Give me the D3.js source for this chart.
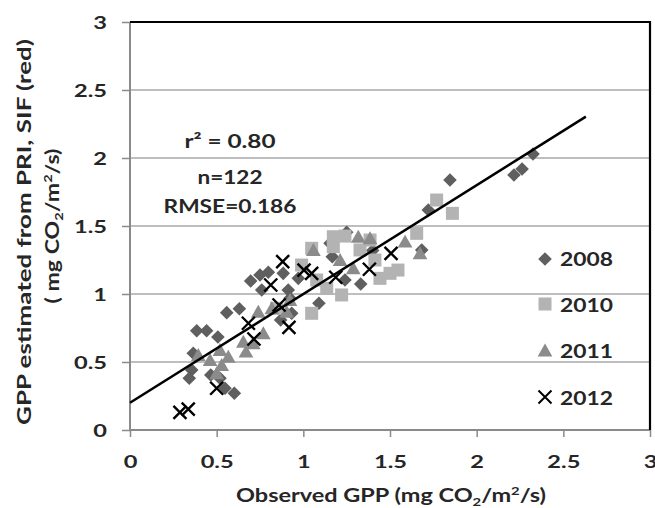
<!DOCTYPE html>
<html>
<head>
<meta charset="utf-8">
<script src="https://cdn.jsdelivr.net/npm/d3@7"></script>
<style>
  html, body { margin: 0; padding: 0; background: #fff; }
  svg { display: block; }
  text { font-family: Lato, "Open Sans", sans-serif; font-weight: 700; fill: #262626; }
</style>
</head>
<body>
<svg id="chart" width="655" height="508"></svg>
<script>
// ---------------- data ----------------
const xTickValues = [0, 0.5, 1, 1.5, 2, 2.5, 3];
const yTickValues = [0, 0.5, 1, 1.5, 2, 2.5, 3];
const seriesNames = ["2008", "2010", "2011", "2012"];

const obs2008 = [0.385,0.442,0.507,0.365,0.356,0.342,0.466,0.519,0.548,0.602,0.558,0.631,0.696,0.750,0.798,0.760,0.884,0.913,0.923,0.869,0.933,0.971,1.090,1.250,1.154,1.167,1.240,1.331,1.683,1.721,1.846,2.215,2.262,2.325,1.400];
const est2008 = [0.730,0.730,0.684,0.564,0.441,0.380,0.404,0.380,0.307,0.270,0.863,0.892,1.096,1.140,1.160,1.029,1.152,1.029,0.968,0.809,0.858,1.115,0.932,1.454,1.373,1.274,1.103,1.074,1.324,1.618,1.838,1.875,1.919,2.029,1.320];

const obs2010 = [1.048,1.173,1.240,1.173,0.990,1.077,1.135,1.221,1.048,1.442,1.500,1.413,1.654,1.769,1.860,0.846,1.327,1.385,1.546];
const est2010 = [1.336,1.421,1.426,1.348,1.213,1.103,1.042,0.993,0.858,1.115,1.152,1.250,1.446,1.691,1.593,0.895,1.324,1.397,1.176];

const obs2011 = [0.394,0.462,0.519,0.567,0.529,0.500,0.669,0.711,0.769,0.654,0.740,0.818,0.923,1.058,1.212,1.317,1.385,1.288,1.587,1.673,0.904];
const est2011 = [0.551,0.515,0.588,0.539,0.478,0.417,0.576,0.638,0.711,0.649,0.870,0.895,0.956,1.324,1.250,1.421,1.410,1.189,1.385,1.299,0.870];

const obs2012 = [0.288,0.336,0.500,0.683,0.715,0.812,0.860,0.917,0.881,1.004,1.048,1.187,1.381,1.506];
const est2012 = [0.130,0.154,0.307,0.785,0.669,1.066,0.919,0.755,1.238,1.176,1.152,1.123,1.182,1.299];

// regression line: y = slope * x + intercept, drawn from x=0 to lineEndX
const fitSlope = 0.80, fitIntercept = 0.20, lineEndX = 2.63;
const statLines = ["r\u00B2 = 0.80", "n=122", "RMSE=0.186"];

// ---------------- drawing ----------------
const svg = d3.select("#chart");
const L = 130, R = 650, T = 22, B = 430;
const x = d3.scaleLinear().domain([0, 3]).range([L, R]);
const y = d3.scaleLinear().domain([0, 3]).range([B, T]);

function stretch(sel, targetW) {
  const w = sel.node().getComputedTextLength();
  return targetW / w;
}
function placeText(sel, tx, ty, sx, rot) {
  sel.attr("x", 0).attr("y", 0).attr("dy", null)
     .attr("transform", `translate(${tx},${ty})` + (rot ? ` rotate(${rot})` : "") + ` scale(${sx},1)`);
}

// gridlines
svg.append("g").selectAll("line")
  .data(yTickValues.filter(v => v > 0 && v < 3))
  .join("line")
  .attr("x1", L).attr("x2", R)
  .attr("y1", d => y(d)).attr("y2", d => y(d))
  .attr("stroke", "#a9a9a9").attr("stroke-width", 1.5);

// axes
const yAxis = svg.append("g").attr("transform", `translate(${L},0)`)
  .call(d3.axisLeft(y).tickValues(yTickValues).tickSize(8).tickPadding(15).tickFormat(d => String(d)));
const xAxis = svg.append("g").attr("transform", `translate(0,${B})`)
  .call(d3.axisBottom(x).tickValues(xTickValues).tickSize(7).tickPadding(14).tickFormat(d => String(d)));
[yAxis, xAxis].forEach(g => {
  g.select(".domain").attr("stroke", "#8a8a8a").attr("stroke-width", 2);
  g.selectAll(".tick line").attr("stroke", "#8a8a8a").attr("stroke-width", 1.5);
  g.selectAll(".tick text").attr("font-size", 17).attr("fill", "#262626")
    .style("font-family", "Lato, sans-serif").style("font-weight", 700);
});
yAxis.select(".domain").attr("d", `M0,${T}V${B}`);
xAxis.select(".domain").attr("d", `M${L},0H${R}`);

const tickSx = stretch(yAxis.selectAll(".tick text").filter(d => d === 2.5), 33);
yAxis.selectAll(".tick text").each(function() {
  d3.select(this).attr("text-anchor", "end");
  placeText(d3.select(this), -23, 6, tickSx);
});
xAxis.selectAll(".tick text").each(function() {
  d3.select(this).attr("text-anchor", "middle");
  placeText(d3.select(this), 0, 38, tickSx);
});

// top & right border
svg.append("path")
  .attr("d", `M${L},${T}H${R}V${B}`)
  .attr("fill", "none").attr("stroke", "#000").attr("stroke-width", 2.2);

// markers
const diamond = s => `M0,${-s}L${s},0L0,${s}L${-s},0Z`;
const square = s => `M${-s},${-s}H${s}V${s}H${-s}Z`;
const triangle = s => `M0,${-s}L${s * 1.05},${s * 0.85}L${-s * 1.05},${s * 0.85}Z`;
const crossP = s => `M${-s},${-s}L${s},${s}M${s},${-s}L${-s},${s}`;

const marks = svg.append("g");
function drawSeries(xs, ys, pathD, fill) {
  marks.append("g").selectAll("path")
    .data(xs.map((v, i) => [v, ys[i]]))
    .join("path")
    .attr("d", pathD)
    .attr("transform", d => `translate(${x(d[0])},${y(d[1])})`)
    .attr("fill", fill);
}
drawSeries(obs2008, est2008, diamond(6.8), "#5f5f5f");
drawSeries(obs2010, est2010, square(6.5), "#b3b3b3");
drawSeries(obs2011, est2011, triangle(7), "#8b8b8b");

// regression line
svg.append("line")
  .attr("x1", x(0)).attr("y1", y(fitIntercept))
  .attr("x2", x(lineEndX)).attr("y2", y(fitSlope * lineEndX + fitIntercept))
  .attr("stroke", "#000").attr("stroke-width", 2.5);

svg.append("g").selectAll("path")
  .data(obs2012.map((v, i) => [v, est2012[i]]))
  .join("path")
  .attr("d", crossP(6.5))
  .attr("transform", d => `translate(${x(d[0])},${y(d[1])})`)
  .attr("fill", "none").attr("stroke", "#000").attr("stroke-width", 2.4);

// stats text
const statY = [148, 183.5, 212.5];
const statW = [91, 65, 133];
statLines.forEach((s, i) => {
  const t = svg.append("text").attr("text-anchor", "middle").attr("font-size", 18.5).text(s);
  placeText(t, 230, statY[i], stretch(t, statW[i]));
});

// legend
const legY = [259, 304, 350.5, 397];
const legBase = [266, 311.5, 358, 404.5];
const legShapes = [
  { d: diamond(6.8), fill: "#5f5f5f" },
  { d: square(6.5), fill: "#b3b3b3" },
  { d: triangle(7), fill: "#8b8b8b" },
  { d: crossP(6.5), fill: "none", stroke: "#000" }
];
seriesNames.forEach((name, i) => {
  const sh = legShapes[i];
  svg.append("path").attr("d", sh.d)
    .attr("transform", `translate(545,${legY[i]})`)
    .attr("fill", sh.fill)
    .attr("stroke", sh.stroke || "none").attr("stroke-width", sh.stroke ? 2 : 0);
  const t = svg.append("text").attr("text-anchor", "start").attr("font-size", 19.5).text(name);
  placeText(t, 560, legBase[i], stretch(t, 53));
});

// x axis title
const xt = svg.append("text").attr("text-anchor", "middle").attr("font-size", 19);
xt.append("tspan").text("Observed GPP (mg CO");
xt.append("tspan").attr("font-size", 12).attr("dy", 4).text("2");
xt.append("tspan").attr("dy", -4).text("/m");
xt.append("tspan").attr("font-size", 12).attr("dy", -7).text("2");
xt.append("tspan").attr("dy", 7).text("/s)");
placeText(xt, 391, 502, stretch(xt, 310));

// y axis title (two lines, rotated)
const yt1 = svg.append("text").attr("text-anchor", "middle").attr("font-size", 19)
  .text("GPP estimated from PRI, SIF (red)");
placeText(yt1, 31, 232, stretch(yt1, 386), -90);

const yt2 = svg.append("text").attr("text-anchor", "middle").attr("font-size", 19);
yt2.append("tspan").text("( mg CO");
yt2.append("tspan").attr("font-size", 12).attr("dy", 4).text("2");
yt2.append("tspan").attr("dy", -4).text("/m");
yt2.append("tspan").attr("font-size", 12).attr("dy", -7).text("2");
yt2.append("tspan").attr("dy", 7).text("/s)");
placeText(yt2, 59, 226, stretch(yt2, 155), -90);
</script>
</body>
</html>
